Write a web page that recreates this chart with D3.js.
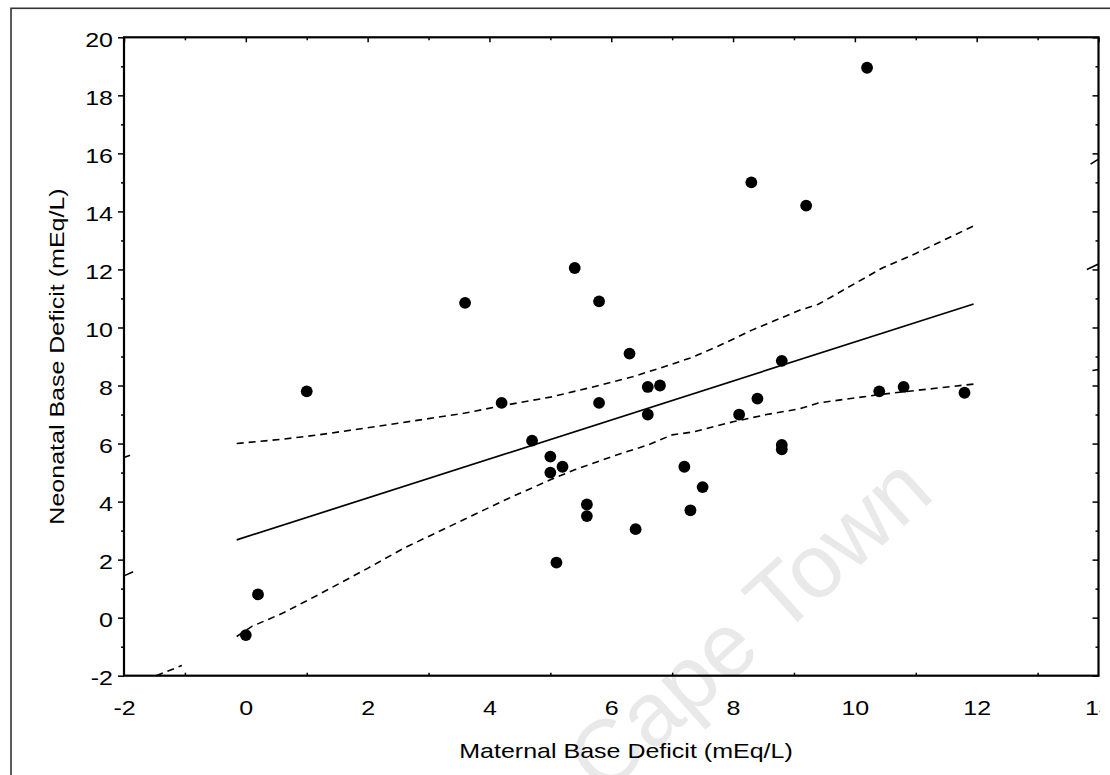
<!DOCTYPE html>
<html>
<head>
<meta charset="utf-8">
<script src="https://cdn.jsdelivr.net/npm/d3@7"></script>
<style>
  body { margin: 0; background: #fff; }
  svg { display: block; }
</style>
</head>
<body>
<div id="chart"></div>
<script>
// points (maternal vs neonatal base deficit, mEq/L)
const maternalBD = [0, 0.2, 1.0, 3.6, 4.2, 4.7, 5.0, 5.0, 5.2, 5.4, 5.8, 5.8, 5.6, 5.6, 5.1, 6.3, 6.6,
  6.8, 6.6, 6.4, 7.2, 7.3, 7.5, 8.1, 8.4, 8.8, 8.8, 8.8, 8.3, 9.2, 10.2, 10.4, 10.8, 11.8];
const neonatalBD = [-0.6, 0.8, 7.8, 10.85, 7.4, 6.1, 5.55, 5.0, 5.2, 12.05, 10.9, 7.4, 3.9, 3.5, 1.9, 9.1, 7.95,
  8.0, 7.0, 3.05, 5.2, 3.7, 4.5, 7.0, 7.55, 8.85, 5.95, 5.8, 15.0, 14.2, 18.95, 7.8, 7.95, 7.75];

// regression line end points
const fitX = [-0.15, 11.95];
const fitY = [2.68, 10.81];

// 95% band, upper and lower dashed lines
const upperX = [-0.15, 0.6, 1.2, 2.5, 3.6, 4.2, 5.0, 5.7, 6.35, 6.8, 7.3, 7.75, 8.3, 9.1, 9.4, 10.45, 11.0, 11.5, 11.95];
const upperY = [6.0, 6.15, 6.3, 6.7, 7.05, 7.3, 7.6, 7.95, 8.3, 8.6, 8.95, 9.35, 9.9, 10.6, 10.8, 12.05, 12.55, 13.05, 13.5];
const lowerX = [-0.15, 0.1, 0.6, 1.2, 2.0, 2.6, 3.6, 4.3, 5.0, 5.4, 6.15, 6.6, 7.0, 7.35, 8.0, 8.55, 9.1, 9.4, 10.45, 11.95];
const lowerY = [-0.65, -0.3, 0.15, 0.8, 1.7, 2.4, 3.4, 4.1, 4.75, 5.1, 5.65, 5.95, 6.3, 6.4, 6.75, 7.0, 7.2, 7.4, 7.7, 8.05];

// little leftover bits of the lines sitting on the frame edges
const stubX1 = [-2.0, -2.0, -1.47, 13.81, 13.87, 13.9];
const stubY1 = [1.44, 5.52, -2.0, 12.0, 15.63, 8.52];
const stubX2 = [-1.85, -1.9, -1.05, 14.0, 14.0, 14.0];
const stubY2 = [1.58, 5.6, -1.65, 12.19, 15.8, 8.55];
const stubDashed = [false, false, true, false, false, false];

const xMajor = [-2, 0, 2, 4, 6, 8, 10, 12, 14];
const xMinor = [-1, 1, 3, 5, 7, 9, 11, 13];
const yMajor = [-2, 0, 2, 4, 6, 8, 10, 12, 14, 16, 18, 20];
const yMinor = [-1, 1, 3, 5, 7, 9, 11, 13, 15, 17, 19];

const xTitle = "Maternal Base Deficit (mEq/L)";
const yTitle = "Neonatal Base Deficit (mEq/L)";
const watermark = "Cape Town";

const FONT = "'Liberation Sans', Arial, sans-serif";
const FS = 20.5;
const SX = 1.22; // the original lettering is wider than arial

document.addEventListener("DOMContentLoaded", () => drawChart());

// plain hyphen for negatives, like the original
const plainNum = d => String(d);

function drawChart() {
  const W = 1110, H = 775;

  const x = d3.scaleLinear().domain([-2, 14]).range([124, 1098.5]);
  const y = d3.scaleLinear().domain([-2, 20]).range([675.7, 37.3]);

  const svg = d3.select("#chart").append("svg")
    .attr("width", W)
    .attr("height", H);

  svg.append("defs").append("clipPath")
    .attr("id", "cut")
    .append("rect")
    .attr("x", 0).attr("y", 0).attr("width", 1100).attr("height", H);

  // outer border (only top and left show in the crop)
  svg.append("rect")
    .attr("x", 11).attr("y", 8.3)
    .attr("width", 1300).attr("height", 1000)
    .attr("fill", "none")
    .attr("stroke", "#333")
    .attr("stroke-width", 1.6);

  // faint watermark behind everything
  svg.append("text")
    .attr("transform", "translate(603,797) rotate(-42)")
    .attr("font-family", FONT)
    .attr("font-size", 90)
    .attr("fill", "#e9e9e9")
    .text(watermark);

  const fit = fitX.map((v, i) => [v, fitY[i]]);
  const upper = upperX.map((v, i) => [v, upperY[i]]);
  const lower = lowerX.map((v, i) => [v, lowerY[i]]);

  const line = d3.line().x(d => x(d[0])).y(d => y(d[1]));

  svg.append("path")
    .datum(fit)
    .attr("d", line)
    .attr("fill", "none")
    .attr("stroke", "#000")
    .attr("stroke-width", 1.7);

  svg.selectAll(".band")
    .data([upper, lower])
    .join("path")
    .attr("class", "band")
    .attr("d", line)
    .attr("fill", "none")
    .attr("stroke", "#000")
    .attr("stroke-width", 1.6)
    .attr("stroke-dasharray", "7,5");

  const stubs = stubX1.map((v, i) => ({ x1: v, y1: stubY1[i], x2: stubX2[i], y2: stubY2[i], dashed: stubDashed[i] }));
  svg.selectAll(".stub")
    .data(stubs)
    .join("line")
    .attr("class", "stub")
    .attr("x1", d => x(d.x1)).attr("y1", d => y(d.y1))
    .attr("x2", d => x(d.x2)).attr("y2", d => y(d.y2))
    .attr("stroke", "#000")
    .attr("stroke-width", 1.6)
    .attr("stroke-dasharray", d => d.dashed ? "7,5" : null);

  // points
  const pts = maternalBD.map((v, i) => ({ mx: v, ny: neonatalBD[i] }));
  svg.selectAll(".dot")
    .data(pts)
    .join("circle")
    .attr("class", "dot")
    .attr("cx", d => x(d.mx))
    .attr("cy", d => y(d.ny))
    .attr("r", 5.9)
    .attr("fill", "#000");

  // axes: left ticks go out, the other three sides point in
  const left = svg.append("g")
    .attr("transform", "translate(" + x(-2) + ",0)")
    .call(d3.axisLeft(y).tickValues(yMajor).tickSize(6).tickPadding(5).tickFormat(plainNum));
  svg.append("g")
    .attr("transform", "translate(" + x(-2) + ",0)")
    .call(d3.axisLeft(y).tickValues(yMinor).tickSize(3).tickFormat(""));

  const bottom = svg.append("g")
    .attr("transform", "translate(0," + y(-2) + ")")
    .attr("clip-path", "url(#cut)")
    .call(d3.axisBottom(x).tickValues(xMajor).tickSizeInner(-6).tickSizeOuter(0).tickPadding(25).tickFormat(plainNum));
  svg.append("g")
    .attr("transform", "translate(0," + y(-2) + ")")
    .call(d3.axisBottom(x).tickValues(xMinor).tickSizeInner(-3).tickSizeOuter(0).tickFormat(""));

  svg.append("g")
    .attr("transform", "translate(0," + y(20) + ")")
    .call(d3.axisTop(x).tickValues(xMajor).tickSizeInner(-5).tickSizeOuter(0).tickFormat(""));
  svg.append("g")
    .attr("transform", "translate(0," + y(20) + ")")
    .call(d3.axisTop(x).tickValues(xMinor).tickSizeInner(-3).tickSizeOuter(0).tickFormat(""));

  svg.append("g")
    .attr("transform", "translate(" + x(14) + ",0)")
    .call(d3.axisRight(y).tickValues(yMajor).tickSizeInner(-6).tickSizeOuter(0).tickFormat(""));
  svg.append("g")
    .attr("transform", "translate(" + x(14) + ",0)")
    .call(d3.axisRight(y).tickValues(yMinor).tickSizeInner(-3).tickSizeOuter(0).tickFormat(""));

  svg.selectAll(".domain").remove();
  svg.selectAll(".tick line").attr("stroke", "#000").attr("stroke-width", 1.5);

  // widen the tick labels a bit; x attr has to be undone by the scale
  left.selectAll("text")
    .attr("font-family", FONT).attr("font-size", FS).attr("fill", "#000")
    .attr("dy", "0.45em")
    .attr("x", -11 / SX)
    .attr("transform", "scale(" + SX + ",1)");
  bottom.selectAll("text")
    .attr("font-family", FONT).attr("font-size", FS).attr("fill", "#000")
    .attr("transform", "scale(" + SX + ",1)");

  // plot frame
  svg.append("rect")
    .attr("x", x(-2)).attr("y", y(20))
    .attr("width", x(14) - x(-2))
    .attr("height", y(-2) - y(20))
    .attr("fill", "none")
    .attr("stroke", "#000")
    .attr("stroke-width", 2.2);

  // axis titles
  svg.append("text")
    .attr("transform", "translate(626,757.5) scale(" + SX + ",1)")
    .attr("text-anchor", "middle")
    .attr("font-family", FONT).attr("font-size", FS)
    .text(xTitle);

  svg.append("text")
    .attr("transform", "translate(63.5,356.5) rotate(-90) scale(" + SX + ",1)")
    .attr("text-anchor", "middle")
    .attr("font-family", FONT).attr("font-size", FS)
    .text(yTitle);
}
</script>
</body>
</html>
